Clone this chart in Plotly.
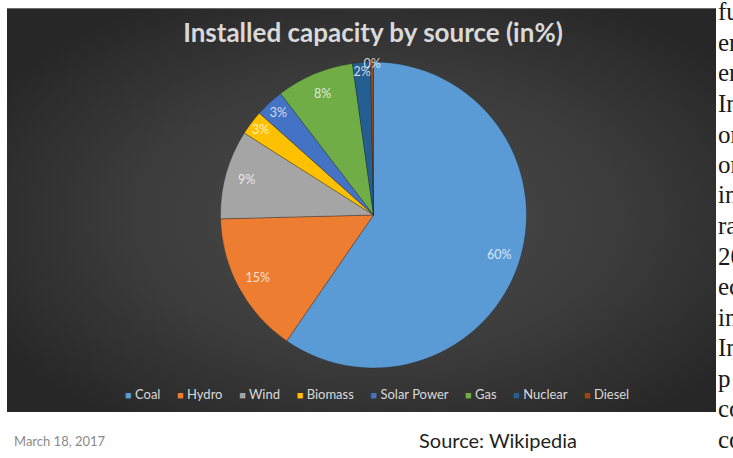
import base64
import plotly.graph_objects as go

# ---- data ----
categories = ["Coal", "Hydro", "Wind", "Biomass", "Solar Power", "Gas", "Nuclear", "Diesel"]
shares = [59.6, 15.0, 9.4, 2.6, 3.0, 8.2, 1.9, 0.3]
colors = ["#5B9BD5", "#ED7D31", "#A5A5A5", "#FFC000", "#4472C4", "#70AD47", "#255E91", "#9E480E"]
title_text = "Installed capacity by source (in%)"
date_text = "March 18, 2017"
source_text = "Source: Wikipedia"
side_fragments = ["fu", "en", "en", "In", "on", "on", "in", "ra", "20", "ec", "in", "In", "p", "co", "co"]

# ---- layout geometry ----
W, H = 733, 458
cx, cy, R = 373.5, 215, 153
dom = dict(x=[(cx - R) / W, (cx + R) / W], y=[(H - cy - R) / H, (H - cy + R) / H])
panel = dict(x0=7, y0=8, x1=716, y1=412)
pw, ph = panel["x1"] - panel["x0"], panel["y1"] - panel["y0"]

svg = f'''<svg xmlns="http://www.w3.org/2000/svg" width="{pw}" height="{ph}" viewBox="0 0 {pw} {ph}" preserveAspectRatio="none">
<defs><radialGradient id="g" cx="0.52" cy="0.52" r="0.62">
<stop offset="0" stop-color="#4b4b4b"/><stop offset="0.55" stop-color="#3c3c3c"/><stop offset="1" stop-color="#272727"/>
</radialGradient></defs>
<rect x="0" y="0" width="{pw}" height="{ph}" fill="url(#g)"/>
<line x1="0" y1="0.5" x2="{pw}" y2="0.5" stroke="#6a6a6a" stroke-width="1"/>
</svg>'''
bg_src = "data:image/svg+xml;base64," + base64.b64encode(svg.encode()).decode()

fig = go.Figure()
fig.add_trace(go.Pie(
    labels=categories, values=shares, sort=False, direction="clockwise",
    marker=dict(colors=colors, line=dict(color="rgba(30,30,30,0.45)", width=0.7)),
    textinfo="none", hoverinfo="label+percent", showlegend=False, domain=dom,
))
# transparent ring used only to place the percentage labels near the rim
fig.add_trace(go.Pie(
    labels=categories, values=shares, sort=False, direction="clockwise", hole=0.72,
    marker=dict(colors=["rgba(0,0,0,0)"] * len(categories), line=dict(width=0)),
    texttemplate="%{percent:.0%}", textposition="inside", insidetextorientation="horizontal",
    textfont=dict(family="Lato", size=12.5, color="rgba(255,255,255,0.78)"),
    hoverinfo="skip", showlegend=False, domain=dom,
))

gap = "\u00a0" * 5
legend_html = gap.join(
    f"<span style='color:{c};font-size:11px'>■</span>\u00a0{n}" for n, c in zip(categories, colors)
)

annotations = [
    dict(text=legend_html, x=377 / W, y=1 - 394 / H, xref="paper", yref="paper",
         xanchor="center", yanchor="middle", showarrow=False,
         font=dict(family="Lato", size=13, color="#d9d9d9")),
    dict(text=date_text, x=12 / W, y=1 - 441 / H, xref="paper", yref="paper",
         xanchor="left", yanchor="middle", showarrow=False,
         font=dict(family="Lato", size=13, color="#8a8a8a")),
    dict(text=source_text, x=498 / W, y=1 - 440 / H, xref="paper", yref="paper",
         xanchor="center", yanchor="middle", showarrow=False,
         font=dict(family="Lato", size=20, color="#1f1f1f")),
]
for i, frag in enumerate(side_fragments):
    annotations.append(dict(text=frag, x=716 / W, y=1 - (12 + i * 30.5) / H, xref="paper", yref="paper",
                            xanchor="left", yanchor="middle", showarrow=False,
                            font=dict(family="Liberation Serif", size=25, color="#1a1a1a")))

fig.update_layout(
    width=W, height=H, margin=dict(l=0, r=0, t=0, b=0),
    paper_bgcolor="white", plot_bgcolor="white",
    title=dict(text=title_text, x=373 / W, xanchor="center", y=1 - 33 / H, yanchor="middle",
               font=dict(family="Lato", size=26, color="#d9d9d9", weight="bold")),
    uniformtext=dict(minsize=12.5, mode="show"),
    images=[dict(source=bg_src, xref="paper", yref="paper", x=panel["x0"] / W, y=1 - panel["y0"] / H,
                 sizex=pw / W, sizey=ph / H, xanchor="left", yanchor="top", sizing="stretch", layer="below")],
    annotations=annotations,
)

fig.write_html("out.html", config={"displayModeBar": False},
               post_script="document.body.style.margin='0px';document.body.style.overflow='hidden';")
